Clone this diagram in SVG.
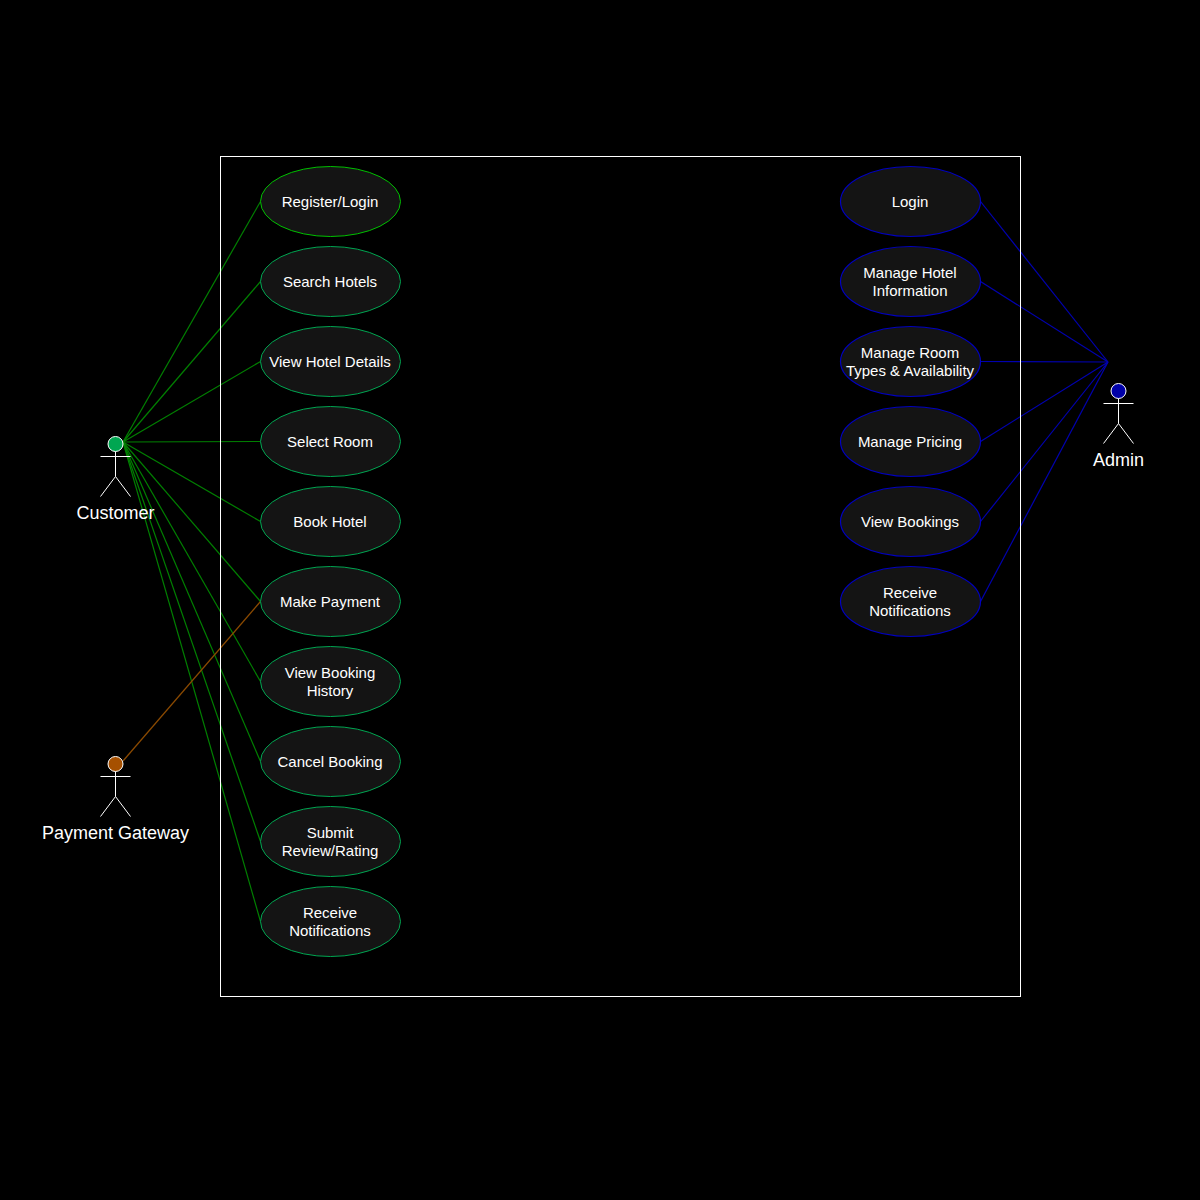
<svg xmlns="http://www.w3.org/2000/svg" width="1200" height="1200" viewBox="0 0 1200 1200">
<defs>
<style>
text{font-family:"Liberation Sans",Arial,sans-serif;fill:#ffffff;text-anchor:middle}
.uc text{font-size:15px}
.uc ellipse{fill:#141414;stroke-width:1}
.g ellipse{stroke:#00a651}
.g.first ellipse{stroke:#00c000}
.b ellipse{stroke:#0000c0;stroke-width:1.2}
.actor line{stroke:#ffffff;stroke-width:1}
.actor circle{stroke:#ffffff;stroke-width:1}
.actor text{font-size:18px}
.cg line{stroke:#008000;stroke-width:1.2}
.cb line{stroke:#0000b0;stroke-width:1.2}
.co line{stroke:#8b4a00;stroke-width:1.2}
</style>
</defs>
<rect width="1200" height="1200" fill="#000000"/>
<g id="connectors">
<g class="cg">
<line x1="123" y1="442" x2="260.500" y2="201.500"/>
<line x1="123" y1="442" x2="260.500" y2="281.500"/>
<line x1="123" y1="442" x2="260.500" y2="361.500"/>
<line x1="123" y1="442" x2="260.500" y2="441.500"/>
<line x1="123" y1="442" x2="260.500" y2="521.500"/>
<line x1="123" y1="442" x2="260.500" y2="601.500"/>
<line x1="123" y1="442" x2="260.500" y2="681.500"/>
<line x1="123" y1="442" x2="260.500" y2="761.500"/>
<line x1="123" y1="442" x2="260.500" y2="841.500"/>
<line x1="123" y1="442" x2="260.500" y2="921.500"/>
</g>
<g class="co"><line x1="123" y1="761" x2="260.500" y2="601.500"/></g>
<g class="cb">
<line x1="980.500" y1="201.500" x2="1108" y2="362"/>
<line x1="980.500" y1="281.500" x2="1108" y2="362"/>
<line x1="980.500" y1="361.500" x2="1108" y2="362"/>
<line x1="980.500" y1="441.500" x2="1108" y2="362"/>
<line x1="980.500" y1="521.500" x2="1108" y2="362"/>
<line x1="980.500" y1="601.500" x2="1108" y2="362"/>
</g>
</g>
<rect id="boundary" x="220.500" y="156.500" width="800" height="840" fill="none" stroke="#ffffff" stroke-width="1"/>
<g id="customer" class="actor">
<circle cx="115.500" cy="444" r="7.500" fill="#00a651"/>
<line x1="115.500" y1="451.500" x2="115.500" y2="476.500"/>
<line x1="100.500" y1="456.500" x2="130.500" y2="456.500"/>
<line x1="115.500" y1="476.500" x2="100.500" y2="496.500"/>
<line x1="115.500" y1="476.500" x2="130.500" y2="496.500"/>
<text x="115.500" y="519">Customer</text>
</g>
<g id="payment-gateway" class="actor">
<circle cx="115.500" cy="764" r="7.500" fill="#a65000"/>
<line x1="115.500" y1="771.500" x2="115.500" y2="796.500"/>
<line x1="100.500" y1="776.500" x2="130.500" y2="776.500"/>
<line x1="115.500" y1="796.500" x2="100.500" y2="816.500"/>
<line x1="115.500" y1="796.500" x2="130.500" y2="816.500"/>
<text x="115.500" y="839">Payment Gateway</text>
</g>
<g id="admin" class="actor">
<circle cx="1118.500" cy="391" r="7.500" fill="#0000a8"/>
<line x1="1118.500" y1="398.500" x2="1118.500" y2="423.500"/>
<line x1="1103.500" y1="403.500" x2="1133.500" y2="403.500"/>
<line x1="1118.500" y1="423.500" x2="1103.500" y2="443.500"/>
<line x1="1118.500" y1="423.500" x2="1133.500" y2="443.500"/>
<text x="1118.500" y="466">Admin</text>
</g>
<g id="uc-register" class="uc g first"><ellipse cx="330.500" cy="201.500" rx="70" ry="35"/><text x="330" y="207">Register/Login</text></g>
<g id="uc-search" class="uc g"><ellipse cx="330.500" cy="281.500" rx="70" ry="35"/><text x="330" y="287">Search Hotels</text></g>
<g id="uc-details" class="uc g"><ellipse cx="330.500" cy="361.500" rx="70" ry="35"/><text x="330" y="367">View Hotel Details</text></g>
<g id="uc-room" class="uc g"><ellipse cx="330.500" cy="441.500" rx="70" ry="35"/><text x="330" y="447">Select Room</text></g>
<g id="uc-book" class="uc g"><ellipse cx="330.500" cy="521.500" rx="70" ry="35"/><text x="330" y="527">Book Hotel</text></g>
<g id="uc-pay" class="uc g"><ellipse cx="330.500" cy="601.500" rx="70" ry="35"/><text x="330" y="607">Make Payment</text></g>
<g id="uc-history" class="uc g"><ellipse cx="330.500" cy="681.500" rx="70" ry="35"/><text x="330" y="678">View Booking</text><text x="330" y="696">History</text></g>
<g id="uc-cancel" class="uc g"><ellipse cx="330.500" cy="761.500" rx="70" ry="35"/><text x="330" y="767">Cancel Booking</text></g>
<g id="uc-review" class="uc g"><ellipse cx="330.500" cy="841.500" rx="70" ry="35"/><text x="330" y="838">Submit</text><text x="330" y="856">Review/Rating</text></g>
<g id="uc-notify" class="uc g"><ellipse cx="330.500" cy="921.500" rx="70" ry="35"/><text x="330" y="918">Receive</text><text x="330" y="936">Notifications</text></g>
<g id="ua-login" class="uc b"><ellipse cx="910.500" cy="201.500" rx="70" ry="35"/><text x="910" y="207">Login</text></g>
<g id="ua-hotel" class="uc b"><ellipse cx="910.500" cy="281.500" rx="70" ry="35"/><text x="910" y="278">Manage Hotel</text><text x="910" y="296">Information</text></g>
<g id="ua-room" class="uc b"><ellipse cx="910.500" cy="361.500" rx="70" ry="35"/><text x="910" y="358">Manage Room</text><text x="910" y="376">Types &amp; Availability</text></g>
<g id="ua-pricing" class="uc b"><ellipse cx="910.500" cy="441.500" rx="70" ry="35"/><text x="910" y="447">Manage Pricing</text></g>
<g id="ua-bookings" class="uc b"><ellipse cx="910.500" cy="521.500" rx="70" ry="35"/><text x="910" y="527">View Bookings</text></g>
<g id="ua-notify" class="uc b"><ellipse cx="910.500" cy="601.500" rx="70" ry="35"/><text x="910" y="598">Receive</text><text x="910" y="616">Notifications</text></g>
</svg>
